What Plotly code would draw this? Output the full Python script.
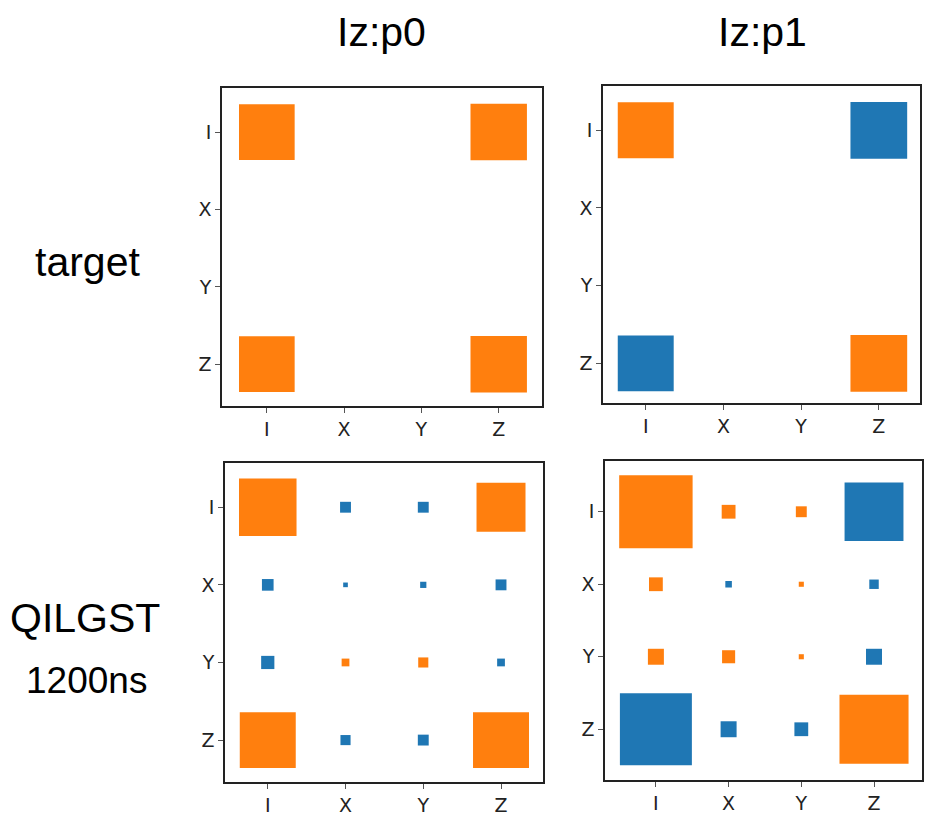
import plotly.graph_objects as go

labels = ["I", "X", "Y", "Z"]

# signed relative square side (positive = orange, negative = blue); rows I,X,Y,Z top->bottom
target_p0 = [
    [0.72, 0.0, 0.0, 0.73],
    [0.0, 0.0, 0.0, 0.0],
    [0.0, 0.0, 0.0, 0.0],
    [0.72, 0.0, 0.0, 0.73],
]
target_p1 = [
    [0.72, 0.0, 0.0, -0.73],
    [0.0, 0.0, 0.0, 0.0],
    [0.0, 0.0, 0.0, 0.0],
    [-0.72, 0.0, 0.0, 0.73],
]
qilgst_p0 = [
    [0.74, -0.14, -0.14, 0.63],
    [-0.15, -0.06, -0.08, -0.14],
    [-0.17, 0.10, 0.13, -0.10],
    [0.72, -0.13, -0.14, 0.72],
]
qilgst_p1 = [
    [1.01, 0.19, 0.15, -0.81],
    [0.19, -0.09, 0.07, -0.13],
    [0.22, 0.18, 0.07, -0.22],
    [-0.99, -0.22, -0.19, 0.95],
]

col_titles = ["Iz:p0", "Iz:p1"]
row_titles = ["target", "QILGST", "1200ns"]

POS = "#ff7f0e"
NEG = "#1f77b4"
W, H = 930, 817

panels = [
    # data, pixel box (l, r, t, b), xrange, yrange
    (target_p0, (222, 542, 88, 406), [-0.58, 3.56], [3.54, -0.57]),
    (target_p1, (603, 920, 86, 403), [-0.55, 3.53], [3.51, -0.57]),
    (qilgst_p0, (225, 543, 463, 782), [-0.55, 3.54], [3.54, -0.57]),
    (qilgst_p1, (605, 922, 461, 780), [-0.70, 3.66], [3.70, -0.70]),
]

fig = go.Figure()
layout = dict(
    width=W, height=H, margin=dict(l=0, r=0, t=0, b=0),
    paper_bgcolor="white", plot_bgcolor="white", showlegend=False,
    font=dict(family="Liberation Sans, Arial, sans-serif", color="black"),
)
shapes = []
for k, (data, (l, r, t, b), xr, yr) in enumerate(panels):
    sfx = "" if k == 0 else str(k + 1)
    axcommon = dict(
        showgrid=False, zeroline=False, showline=True, mirror=True,
        linecolor="#222", linewidth=1.5, ticks="outside", ticklen=5,
        tickcolor="#555", tickwidth=1.2,
        tickfont=dict(size=19, color="#222", family="DejaVu Sans, sans-serif"),
        tickmode="array", tickvals=list(range(4)), ticktext=labels,
        fixedrange=True,
    )
    layout["xaxis" + sfx] = dict(axcommon, domain=[l / W, r / W], range=xr,
                                 anchor="y" + sfx)
    layout["yaxis" + sfx] = dict(axcommon, domain=[1 - b / H, 1 - t / H], range=yr,
                                 anchor="x" + sfx)
    # invisible trace so axes are drawn
    fig.add_trace(go.Scatter(x=[0, 3], y=[0, 3], mode="markers",
                             marker=dict(opacity=0), hoverinfo="skip",
                             xaxis="x" + sfx, yaxis="y" + sfx))
    for i, row in enumerate(data):
        for j, v in enumerate(row):
            if v == 0:
                continue
            s = abs(v) / 2
            shapes.append(dict(
                type="rect", xref="x" + sfx, yref="y" + sfx,
                x0=j - s, x1=j + s, y0=i - s, y1=i + s,
                fillcolor=POS if v > 0 else NEG, line=dict(width=0),
                layer="above",
            ))


def label(text, px, py, size):
    return dict(text=text, x=px / W, y=1 - py / H, xref="paper", yref="paper",
                xanchor="center", yanchor="middle", showarrow=False,
                font=dict(size=size, color="black"))


annotations = [
    label(col_titles[0], 381, 32, 41),
    label(col_titles[1], 762, 32, 41),
    label(row_titles[0], 87, 262, 41),
    label(row_titles[1], 85, 618, 41),
    label(row_titles[2], 86, 680, 37),
]

layout["shapes"] = shapes
layout["annotations"] = annotations
fig.update_layout(**layout)
fig.write_html("out.html")
